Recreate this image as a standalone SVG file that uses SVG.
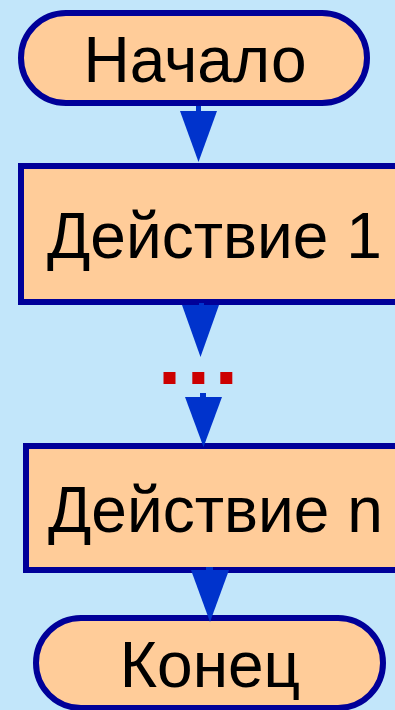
<svg xmlns="http://www.w3.org/2000/svg" width="395" height="710" viewBox="0 0 395 710">
<style>
.shape{fill:#FFCC99;stroke:#000099;stroke-width:6}
.lbl{font-family:"Liberation Sans",Arial,sans-serif;font-size:64px;fill:#000}
.arr{fill:#0033CC}
.dot{fill:#CC0000}
</style>
<rect x="0" y="0" width="395" height="710" fill="#C2E6FA"/>
<g id="start">
<rect class="shape" x="21" y="13" width="346" height="90" rx="45" ry="45"/>
<text class="lbl" x="195" y="82" text-anchor="middle">Начало</text>
</g>
<g id="action1">
<rect class="shape" x="21" y="166" width="400" height="136"/>
<text class="lbl" x="47" y="258">Действие 1</text>
</g>
<g id="actionN">
<rect class="shape" x="26" y="446" width="400" height="124"/>
<text class="lbl" x="48" y="532">Действие n</text>
</g>
<g id="end">
<rect class="shape" x="36" y="618" width="347" height="90" rx="45" ry="45"/>
<text class="lbl" x="210" y="687" text-anchor="middle">Конец</text>
</g>
<g id="connectors">
<rect class="arr" x="196" y="106" width="5" height="6"/>
<polygon class="arr" points="180,111 217,111 198.5,162"/>
<rect class="arr" x="199" y="303" width="5" height="3"/>
<polygon class="arr" points="182,305 219,305 200.5,357"/>
<rect class="dot" x="163.5" y="372" width="12" height="12"/>
<rect class="dot" x="192.3" y="372" width="12" height="12"/>
<rect class="dot" x="220.3" y="372" width="12" height="12"/>
<rect class="arr" x="200" y="393" width="6" height="5"/>
<polygon class="arr" points="185,397 222,397 203.5,447"/>
<rect class="arr" x="206" y="567" width="7" height="4"/>
<polygon class="arr" points="191,570 229,570 210,622"/>
</g>
</svg>
